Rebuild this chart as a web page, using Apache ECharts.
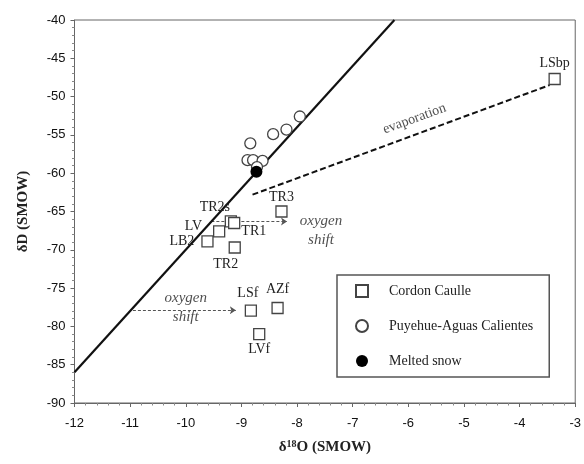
<!DOCTYPE html>
<html>
<head>
<meta charset="utf-8">
<script src="https://cdn.jsdelivr.net/npm/echarts@6/dist/echarts.min.js"></script>
<style>
  html, body { margin: 0; padding: 0; background: #fff; }
  #chart { width: 584px; height: 464px; }
</style>
</head>
<body>
<div id="chart"></div>
<script>
// Cordon Caulle samples
const ccNames = ['LSbp', 'TR3', 'TR2s', 'TR1', 'LV', 'LB2', 'TR2', 'LSf', 'AZf', 'LVf'];
const ccX = [-3.37, -8.28, -9.19, -9.13, -9.40, -9.61, -9.12, -8.83, -8.35, -8.68];
const ccY = [-47.7, -65.0, -66.3, -66.5, -67.6, -68.9, -69.7, -77.95, -77.6, -81.0];

// Puyehue-Aguas Calientes samples
const paX = [-8.84, -8.43, -8.19, -7.95, -8.89, -8.79, -8.62, -8.72];
const paY = [-56.1, -54.9, -54.3, -52.6, -58.3, -58.3, -58.4, -59.2];

// Melted snow
const snowX = [-8.73];
const snowY = [-59.8];

// meteoric water line and evaporation trend
const lmwlX = [-12, -6.25];
const lmwlY = [-86, -40];
const evapX = [-8.8, -3.46];
const evapY = [-62.8, -48.5];

// oxygen shift arrows
const shiftUpX = [-9.54, -8.18];
const shiftUpY = [-66.3, -66.3];
const shiftLoX = [-10.95, -9.10];
const shiftLoY = [-77.9, -77.9];

// annotation texts
const noteText = ['evaporation', 'oxygen\nshift', 'oxygen\nshift'];
const noteX = [-5.89, -7.57, -10.0];
const noteY = [-52.9, -67.5, -77.5];

const zip = (xs, ys) => xs.map((x, i) => [x, ys[i]]);

// label placement for the Cordon Caulle points
const ccLabel = {
    LSbp: { position: 'top', distance: 3 },
    TR3: { position: 'top', distance: 1 },
    TR2s: { position: 'top', distance: 1, offset: [-16, 0] },
    TR1: { position: 'right', distance: 1, offset: [0, 8] },
    LV: { position: 'left', distance: 11, offset: [0, -5] },
    LB2: { position: 'left', distance: 7 },
    TR2: { position: 'bottom', distance: 4, offset: [-9, 0] },
    LSf: { position: 'top', distance: 4, offset: [-3, 0] },
    AZf: { position: 'top', distance: 6 },
    LVf: { position: 'bottom', distance: 2 }
};

const serif = '"Liberation Serif", "DejaVu Serif", serif';
const sans = '"Liberation Sans", Arial, sans-serif';

const chart = echarts.init(document.getElementById('chart'));

const options = {
    animation: false,
    backgroundColor: '#fff',
    grid: {
        left: 74.5,
        right: 6,
        top: 20,
        bottom: 61,
        show: true,
        borderColor: '#666',
        borderWidth: 1
    },
    legend: {
        orient: 'vertical',
        left: 337,
        top: 275,
        data: ['Cordon Caulle', 'Puyehue-Aguas Calientes', 'Melted snow'],
        backgroundColor: '#fff',
        borderColor: '#555',
        borderWidth: 1.5,
        padding: [9, 16, 9, 18],
        itemGap: 21,
        itemWidth: 12,
        itemHeight: 12,
        textStyle: {
            fontFamily: serif,
            fontSize: 14,
            color: '#222',
            padding: [0, 0, 0, 16]
        }
    },
    xAxis: {
        type: 'value',
        min: -12,
        max: -3,
        interval: 1,
        name: '{d|δ}{s|18}{d|O (SMOW)}',
        nameLocation: 'middle',
        nameGap: 36,
        nameTextStyle: {
            rich: {
                d: { fontFamily: serif, fontSize: 15, fontWeight: 'bold', color: '#222' },
                s: { fontFamily: serif, fontSize: 10, fontWeight: 'bold', color: '#222', verticalAlign: 'top', padding: [0, 0, 6, 0] }
            }
        },
        axisLine: { onZero: false, lineStyle: { color: '#666', width: 1 } },
        axisTick: { inside: false, length: 4, lineStyle: { color: '#666' } },
        minorTick: { show: true, splitNumber: 5, length: 2.5, lineStyle: { color: '#888' } },
        splitLine: { show: false },
        axisLabel: { margin: 14, fontFamily: sans, fontSize: 13, color: '#111' }
    },
    yAxis: {
        type: 'value',
        min: -90,
        max: -40,
        interval: 5,
        name: 'δD (SMOW)',
        nameLocation: 'middle',
        nameRotate: 90,
        nameGap: 44,
        nameTextStyle: { fontFamily: serif, fontSize: 15, fontWeight: 'bold', color: '#222' },
        axisLine: { onZero: false, lineStyle: { color: '#666', width: 1 } },
        axisTick: { inside: false, length: 4, lineStyle: { color: '#666' } },
        minorTick: { show: true, splitNumber: 5, length: 2.5, lineStyle: { color: '#888' } },
        splitLine: { show: false },
        axisLabel: { margin: 9, fontFamily: sans, fontSize: 13, color: '#111' }
    },
    series: [
        {
            name: 'LMWL',
            type: 'line',
            data: zip(lmwlX, lmwlY),
            showSymbol: false,
            lineStyle: { color: '#111', width: 2.2 },
            z: 1
        },
        {
            name: 'evaporation',
            type: 'line',
            data: zip(evapX, evapY),
            showSymbol: false,
            lineStyle: { color: '#111', width: 2, type: [6, 3] },
            z: 1
        },
        {
            name: 'shift',
            type: 'lines',
            coordinateSystem: 'cartesian2d',
            symbol: ['none', 'arrow'],
            symbolSize: 6,
            lineStyle: { color: '#555', width: 1, type: [3, 2], opacity: 1 },
            data: [
                { coords: zip(shiftUpX, shiftUpY) },
                { coords: zip(shiftLoX, shiftLoY) }
            ],
            z: 1
        },
        {
            name: 'notes',
            type: 'scatter',
            symbolSize: 1,
            itemStyle: { color: 'transparent' },
            silent: true,
            data: noteText.map((t, i) => ({
                value: [noteX[i], noteY[i]],
                label: i === 0
                    ? { rotate: 20, fontStyle: 'normal', fontSize: 14 }
                    : { fontStyle: 'italic', fontSize: 15, lineHeight: 19 }
            })),
            label: {
                show: true,
                position: 'inside',
                formatter: (p) => noteText[p.dataIndex],
                fontFamily: serif,
                color: '#222'
            },
            z: 2
        },
        {
            name: 'Cordon Caulle',
            type: 'scatter',
            symbol: 'rect',
            symbolSize: 11,
            itemStyle: { color: '#fff', borderColor: '#444', borderWidth: 1.3, opacity: 1 },
            data: ccNames.map((n, i) => ({
                name: n,
                value: [ccX[i], ccY[i]],
                label: ccLabel[n]
            })),
            label: {
                show: true,
                formatter: '{b}',
                fontFamily: serif,
                fontSize: 14,
                color: '#222'
            },
            z: 3
        },
        {
            name: 'Puyehue-Aguas Calientes',
            type: 'scatter',
            symbol: 'circle',
            symbolSize: 11,
            itemStyle: { color: '#fff', borderColor: '#444', borderWidth: 1.3, opacity: 1 },
            data: zip(paX, paY),
            z: 3
        },
        {
            name: 'Melted snow',
            type: 'scatter',
            symbol: 'circle',
            symbolSize: 12,
            itemStyle: { color: '#000', borderWidth: 0, opacity: 1 },
            data: zip(snowX, snowY),
            z: 4
        }
    ]
};

chart.setOption(options);
</script>
</body>
</html>
